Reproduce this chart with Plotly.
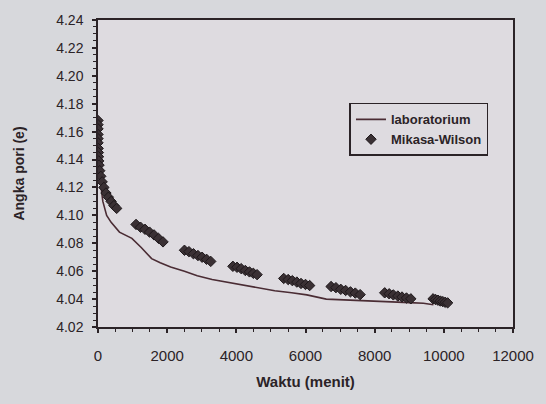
import plotly.graph_objects as go

# Laboratory curve (Waktu in minutes, Angka pori e)
lab_t = [0, 5, 12, 25, 50, 90, 140, 250, 380, 620, 980, 1250, 1550, 1800, 2100,
         2500, 2870, 3300, 3800, 4270, 4700, 5110, 5600, 6040, 6600, 7200,
         7840, 8400, 9000, 9410, 9700]
lab_e = [4.170, 4.160, 4.150, 4.140, 4.128, 4.118, 4.110, 4.100, 4.095, 4.088,
         4.0835, 4.077, 4.069, 4.066, 4.063, 4.060, 4.0568, 4.054, 4.0518, 4.050,
         4.048, 4.046, 4.0445, 4.043, 4.040, 4.0395, 4.039, 4.0385, 4.0375, 4.037, 4.036]

# Mikasa-Wilson prediction points
mw_t = [0, 0, 0, 0, 0, 0, 5, 10, 15, 20, 30, 50, 80, 120, 170, 230, 300, 380, 460, 540,
        1100, 1230, 1360, 1490, 1620, 1750, 1880,
        2500, 2630, 2760, 2890, 3010, 3140, 3260,
        3900, 4020, 4140, 4260, 4380, 4490, 4600,
        5370, 5500, 5620, 5750, 5870, 6000, 6120,
        6740, 6880, 7020, 7160, 7300, 7440, 7580,
        8290, 8420, 8540, 8670, 8790, 8920, 9045,
        9690, 9760, 9830, 9900, 9970, 10040, 10110]
mw_e = [4.168, 4.165, 4.162, 4.158, 4.155, 4.152, 4.148, 4.145, 4.142, 4.139, 4.136,
        4.132, 4.128, 4.124, 4.120, 4.116, 4.113, 4.110, 4.107, 4.105,
        4.0935, 4.0915, 4.0900, 4.0880, 4.0860, 4.0835, 4.0810,
        4.0750, 4.0740, 4.0725, 4.0712, 4.0700, 4.0685, 4.0670,
        4.0635, 4.0628, 4.0618, 4.0605, 4.0595, 4.0585, 4.0575,
        4.0548, 4.0540, 4.0532, 4.0522, 4.0512, 4.0505, 4.0497,
        4.0490, 4.0482, 4.0470, 4.0462, 4.0452, 4.0443, 4.0432,
        4.0445, 4.0438, 4.0430, 4.0422, 4.0415, 4.0408, 4.0402,
        4.0402, 4.0397, 4.0392, 4.0386, 4.0382, 4.0377, 4.0373]

x_ticks = [0, 2000, 4000, 6000, 8000, 10000, 12000]
y_ticks = [4.02, 4.04, 4.06, 4.08, 4.10, 4.12, 4.14, 4.16, 4.18, 4.20, 4.22, 4.24]

ink = "#2b2327"
font_family = "Liberation Sans, Arial, sans-serif"

fig = go.Figure()
fig.add_trace(go.Scatter(
    x=lab_t, y=lab_e, mode="lines", name="laboratorium",
    line=dict(color="#4a2c34", width=1.6),
))
fig.add_trace(go.Scatter(
    x=mw_t, y=mw_e, mode="markers", name="Mikasa-Wilson",
    marker=dict(symbol="diamond", size=8, color="#3a3034",
                line=dict(color="#1e181b", width=1)),
))

fig.update_layout(
    width=546, height=404,
    margin=dict(l=98, r=24, t=20, b=77),
    paper_bgcolor="#d7d8dc",
    plot_bgcolor="#dedbe0",
    font=dict(family=font_family, color=ink, size=12),
    showlegend=True,
    legend=dict(
        x=0.606, y=0.73, xanchor="left", yanchor="top",
        bgcolor="#dedbe0", bordercolor=ink, borderwidth=1.5,
        font=dict(size=13, color=ink, weight="bold"),
        tracegroupgap=8,
    ),
)

fig.update_xaxes(
    range=[0, 12000], tickvals=x_ticks, ticktext=[str(v) for v in x_ticks],
    ticks="outside", ticklen=4, tickcolor=ink, tickwidth=1.5,
    minor=dict(dtick=500, ticks="outside", ticklen=3, tickcolor=ink, tickwidth=1.2),
    showline=True, linecolor=ink, linewidth=1.5, mirror=True,
    showgrid=False, zeroline=False,
    tickfont=dict(size=15, color=ink),
    ticklabelstandoff=10,
    title=dict(text="<b>Waktu (menit)</b>", font=dict(size=15, color=ink), standoff=14),
)
fig.update_yaxes(
    range=[4.02, 4.24], tickvals=y_ticks, ticktext=[f"{v:.2f}" for v in y_ticks],
    ticks="outside", ticklen=4, tickcolor=ink, tickwidth=1.5,
    minor=dict(dtick=0.005, ticks="outside", ticklen=3, tickcolor=ink, tickwidth=1.2),
    showline=True, linecolor=ink, linewidth=1.5, mirror=True,
    showgrid=False, zeroline=False,
    tickfont=dict(size=14, color=ink),
    ticklabelstandoff=6,
    title=dict(text="<b>Angka pori (e)</b>", font=dict(size=14, color=ink), standoff=28),
)

fig.write_html("out.html")
